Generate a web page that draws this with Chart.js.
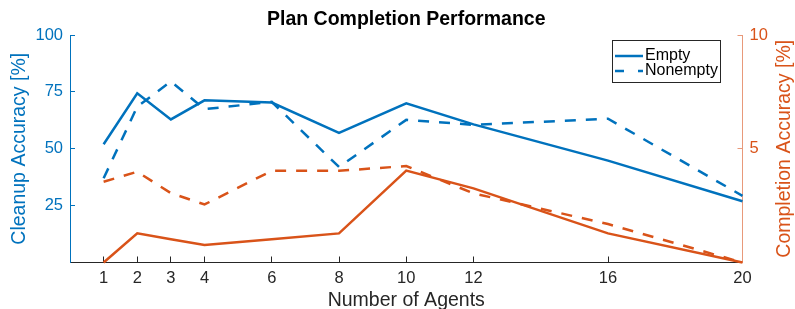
<!DOCTYPE html>
<html lang="en">
<head>
    <meta charset="UTF-8">
    <title>Plan Completion Performance</title>
    <script src="https://cdn.jsdelivr.net/npm/chart.js"></script>
    <style>
        html, body {
            margin: 0;
            padding: 0;
            background: #ffffff;
        }

        #wrap {
            width: 795px;
            height: 309px;
        }
    </style>
</head>
<body>
    <div id="wrap">
        <canvas id="chart"></canvas>
    </div>

    <script>
        // datos
        const agents = [1, 2, 3, 4, 6, 8, 10, 12, 16, 20];
        const cleanupEmpty = [52.0, 74.4, 62.9, 71.3, 70.3, 57.0, 70.0, 60.7, 44.8, 26.9];
        const cleanupNonempty = [37.0, 68.5, 79.6, 67.4, 70.6, 42.0, 62.7, 60.5, 63.2, 29.3];
        const completionEmpty = [0.0, 1.28, 1.02, 0.77, 1.02, 1.28, 4.04, 3.26, 1.28, 0.0];
        const completionNonempty = [3.55, 3.99, 3.05, 2.55, 4.03, 4.03, 4.24, 3.04, 1.69, 0.0];

        const xTicks = [1, 2, 3, 4, 6, 8, 10, 12, 16, 20];
        const leftTicks = [25, 50, 75, 100];
        const rightTicks = [5, 10];
        const legendNames = ['Empty', 'Nonempty'];

        const BLUE = '#0072BD';
        const ORANGE = '#D95319';
        const DARK = '#262626';
        const FONT = "'Liberation Sans', Arial, Helvetica, sans-serif";
        const DASH = [11, 10];

        Chart.defaults.font.family = FONT;

        const toPoints = (vals) => agents.map((a, i) => ({ x: a, y: vals[i] }));

        function serie(label, vals, color, axis, dashed) {
            return {
                label: label,
                data: toPoints(vals),
                borderColor: color,
                backgroundColor: color,
                borderWidth: 2.5,
                borderDash: dashed ? DASH : [],
                pointRadius: 0,
                tension: 0,
                fill: false,
                clip: false,
                yAxisID: axis
            };
        }

        // leyenda con caja, dentro del area del grafico
        const boxLegend = {
            id: 'boxLegend',
            afterDraw(chart) {
                const ctx = chart.ctx;
                const x = 612.5, y = 40.5, w = 108, h = 42;
                ctx.save();
                ctx.fillStyle = '#ffffff';
                ctx.fillRect(x, y, w, h);
                ctx.strokeStyle = DARK;
                ctx.lineWidth = 1;
                ctx.setLineDash([]);
                ctx.strokeRect(x, y, w, h);
                ctx.font = '16px ' + FONT;
                ctx.textBaseline = 'middle';
                ctx.textAlign = 'left';
                legendNames.forEach((name, i) => {
                    const ds = chart.data.datasets[i];
                    const ly = 56 + i * 15;
                    ctx.strokeStyle = ds.borderColor;
                    ctx.lineWidth = 2.5;
                    ctx.setLineDash(ds.borderDash.length ? [9, 14] : []);
                    ctx.beginPath();
                    ctx.moveTo(615, ly);
                    ctx.lineTo(643, ly);
                    ctx.stroke();
                    ctx.setLineDash([]);
                    ctx.fillStyle = '#000000';
                    ctx.fillText(name, 645, ly);
                });
                ctx.restore();
            }
        };

        // titulo del eje derecho, leido de abajo hacia arriba
        const rightTitle = {
            id: 'rightTitle',
            afterDraw(chart) {
                const ctx = chart.ctx;
                const area = chart.chartArea;
                ctx.save();
                ctx.translate(785, (area.top + area.bottom) / 2);
                ctx.rotate(-Math.PI / 2);
                ctx.font = '19.5px ' + FONT;
                ctx.fillStyle = ORANGE;
                ctx.textAlign = 'center';
                ctx.textBaseline = 'middle';
                ctx.fillText('Completion Accuracy [%]', 0, 0);
                ctx.restore();
            }
        };

        const ctx = document.getElementById('chart').getContext('2d');
        const chartInstance = new Chart(ctx, {
            type: 'line',
            data: {
                datasets: [
                    serie('Empty', cleanupEmpty, BLUE, 'y', false),
                    serie('Nonempty', cleanupNonempty, BLUE, 'y', true),
                    serie('Empty completion', completionEmpty, ORANGE, 'y1', false),
                    serie('Nonempty completion', completionNonempty, ORANGE, 'y1', true)
                ]
            },
            options: {
                responsive: true,
                maintainAspectRatio: false,
                animation: false,
                devicePixelRatio: 1,
                layout: { padding: 0 },
                plugins: {
                    legend: { display: false },
                    tooltip: { enabled: false },
                    title: {
                        display: true,
                        text: 'Plan Completion Performance',
                        color: '#000000',
                        fullSize: false,
                        font: { size: 19.5, weight: 'bold' },
                        padding: { top: 7.8, bottom: 3.8 }
                    }
                },
                scales: {
                    x: {
                        type: 'linear',
                        min: 0,
                        max: 20,
                        afterBuildTicks: (axis) => {
                            axis.ticks = xTicks.map(v => ({ value: v }));
                        },
                        afterFit: (axis) => { axis.height = 46.5; },
                        grid: {
                            drawOnChartArea: false,
                            color: DARK,
                            tickLength: -6
                        },
                        border: { color: DARK, width: 1 },
                        ticks: {
                            color: DARK,
                            font: { size: 16.5 },
                            padding: 12,
                            maxRotation: 0,
                            autoSkip: false
                        },
                        title: {
                            display: true,
                            text: 'Number of Agents',
                            color: DARK,
                            font: { size: 19.5 },
                            padding: { top: 0, bottom: -3 }
                        }
                    },
                    y: {
                        type: 'linear',
                        position: 'left',
                        min: 0,
                        max: 100,
                        afterBuildTicks: (axis) => {
                            axis.ticks = leftTicks.map(v => ({ value: v }));
                        },
                        afterFit: (axis) => { axis.width = 70; },
                        grid: {
                            drawOnChartArea: false,
                            color: BLUE,
                            tickLength: -5
                        },
                        border: { color: BLUE, width: 1 },
                        ticks: {
                            color: BLUE,
                            font: { size: 16.5 },
                            padding: 12
                        },
                        title: {
                            display: true,
                            text: 'Cleanup Accuracy [%]',
                            color: BLUE,
                            font: { size: 19.5 },
                            padding: { top: 8.3, bottom: 0 }
                        }
                    },
                    y1: {
                        type: 'linear',
                        position: 'right',
                        min: 0,
                        max: 10,
                        afterBuildTicks: (axis) => {
                            axis.ticks = rightTicks.map(v => ({ value: v }));
                        },
                        afterFit: (axis) => { axis.width = 52.5; },
                        grid: {
                            drawOnChartArea: false,
                            color: '#e8997a',
                            tickLength: -5
                        },
                        border: { color: '#e8997a', width: 1 },
                        ticks: {
                            color: ORANGE,
                            font: { size: 16.5 },
                            padding: 12
                        },
                        title: { display: false }
                    }
                }
            },
            plugins: [boxLegend, rightTitle]
        });
    </script>
</body>
</html>
